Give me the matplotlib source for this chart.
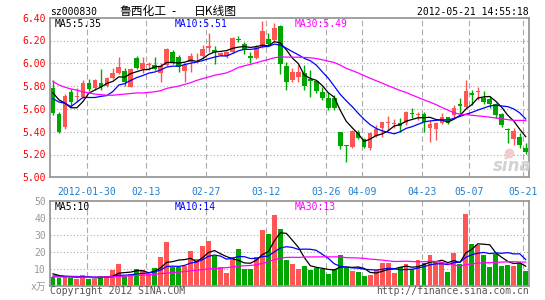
import numpy as np
import pandas as pd
import matplotlib
matplotlib.use('Agg')
import matplotlib.pyplot as plt

plt.rcParams['font.family'] = ['DejaVu Sans Mono', 'Noto Sans CJK SC']

# daily candles (first bar ~2012-01-13, last 2012-05-21)
opens = [5.787, 5.556, 5.445, 5.749, 5.70, 5.708, 5.831, 5.781, 5.828, 5.802,
         5.869, 5.918, 5.936, 5.796, 6.050, 5.948, 5.985, 5.986, 5.918, 5.986,
         6.097, 6.053, 5.936, 6.015, 6.060, 6.064, 6.130, 6.120, 6.070, 6.060,
         6.100, 6.215, 6.170, 6.060, 6.050, 6.140, 6.210, 6.200, 6.330, 5.975,
         5.850, 5.880, 5.912, 5.859, 5.847, 5.751, 5.698, 5.692, 5.394, 5.280,
         5.268, 5.400, 5.336, 5.260, 5.365, 5.429, 5.475, 5.470, 5.473, 5.473,
         5.567, 5.546, 5.552, 5.429, 5.423, 5.473, 5.526, 5.546, 5.640, 5.619,
         5.736, 5.751, 5.698, 5.684, 5.640, 5.555, 5.420, 5.336, 5.350, 5.260]
highs = [5.854, 5.577, 5.729, 5.773, 5.78, 5.854, 5.863, 5.860, 5.951, 5.883,
         5.957, 6.053, 5.957, 5.957, 6.064, 6.058, 6.015, 6.058, 6.006, 6.132,
         6.117, 6.073, 6.006, 6.093, 6.093, 6.160, 6.270, 6.150, 6.100, 6.110,
         6.230, 6.240, 6.190, 6.100, 6.160, 6.370, 6.270, 6.350, 6.340, 6.010,
         5.956, 5.985, 5.985, 5.941, 5.853, 5.795, 5.736, 5.722, 5.400, 5.283,
         5.415, 5.415, 5.347, 5.400, 5.458, 5.488, 5.540, 5.511, 5.517, 5.584,
         5.605, 5.575, 5.575, 5.502, 5.488, 5.561, 5.532, 5.634, 5.692, 5.853,
         5.766, 5.795, 5.757, 5.713, 5.649, 5.561, 5.429, 5.429, 5.385, 5.298]
lows = [5.548, 5.387, 5.422, 5.626, 5.66, 5.700, 5.760, 5.770, 5.770, 5.790,
        5.860, 5.910, 5.800, 5.790, 5.950, 5.913, 5.940, 5.940, 5.839, 5.980,
        5.990, 5.927, 5.839, 5.927, 6.000, 6.040, 6.100, 5.990, 6.060, 6.050,
        6.090, 6.190, 6.080, 6.000, 6.040, 6.130, 6.150, 6.190, 5.910, 5.770,
        5.839, 5.839, 5.766, 5.707, 5.736, 5.678, 5.590, 5.590, 5.245, 5.137,
        5.260, 5.336, 5.254, 5.239, 5.356, 5.356, 5.415, 5.429, 5.400, 5.458,
        5.517, 5.502, 5.394, 5.306, 5.327, 5.464, 5.464, 5.517, 5.546, 5.611,
        5.634, 5.678, 5.640, 5.605, 5.517, 5.444, 5.298, 5.283, 5.254, 5.201]
closes = [5.562, 5.401, 5.714, 5.664, 5.71, 5.831, 5.773, 5.851, 5.790, 5.874,
          5.918, 5.971, 5.839, 5.948, 5.957, 6.000, 5.990, 5.948, 5.974, 6.123,
          6.000, 5.965, 5.986, 6.064, 6.065, 6.122, 6.150, 6.095, 6.090, 6.100,
          6.220, 6.205, 6.120, 6.050, 6.140, 6.280, 6.170, 6.310, 5.990, 5.840,
          5.920, 5.926, 5.804, 5.847, 5.757, 5.692, 5.611, 5.605, 5.277, 5.275,
          5.406, 5.347, 5.263, 5.388, 5.423, 5.482, 5.480, 5.475, 5.450, 5.575,
          5.555, 5.555, 5.482, 5.464, 5.479, 5.526, 5.473, 5.605, 5.628, 5.757,
          5.725, 5.760, 5.657, 5.646, 5.546, 5.458, 5.415, 5.406, 5.283, 5.219]
# volume, 万手
volumes = [5.1, 4.6, 5.3, 4.6, 4.0, 6.3, 3.8, 3.8, 5.5, 5.5,
           8.9, 12.7, 5.5, 6.9, 9.7, 8.9, 6.5, 10.3, 16.8, 25.7,
           11.1, 11.1, 11.7, 20.4, 15.6, 23.4, 26.3, 17.4, 10.7, 7.5,
           16.8, 21.6, 9.9, 9.9, 16.8, 32.9, 30.5, 41.8, 33.5, 15.0,
           12.7, 9.9, 11.5, 9.1, 10.5, 9.7, 6.7, 9.7, 18.0, 10.5,
           8.5, 7.9, 5.5, 6.1, 8.9, 13.3, 13.3, 7.3, 10.7, 12.7,
           9.9, 15.0, 13.3, 18.0, 14.1, 14.1, 7.9, 19.2, 12.7, 42.4,
           24.6, 24.0, 18.0, 10.9, 18.6, 11.5, 12.1, 11.5, 13.3, 8.5]

# moving-average values at the left edge (their history is off the chart)
ma5_head = [5.74, 5.68, 5.65, 5.61]
ma10_head = [5.69, 5.66, 5.65, 5.62, 5.66, 5.70, 5.70, 5.70, 5.71]
ma30_head = [5.84, 5.81, 5.79, 5.775, 5.765, 5.75, 5.74, 5.73, 5.725, 5.72,
             5.72, 5.725, 5.73, 5.735, 5.74, 5.74, 5.745, 5.75, 5.76, 5.78,
             5.79, 5.80, 5.815, 5.83, 5.85, 5.865, 5.88, 5.895, 5.905]
vol_ma5_head = [6.9, 5.9, 5.3, 5.1]
vol_ma10_head = [5.6, 5.6, 5.5, 5.4, 5.3, 5.2, 5.1, 5.0, 4.9]
vol_ma30_head = [5.1, 5.0, 5.0, 5.0, 5.0, 4.9, 4.9, 4.9, 5.0, 5.0,
                 5.1, 5.3, 5.5, 5.7, 5.9, 6.1, 6.3, 6.6, 7.0, 7.3,
                 7.6, 7.9, 8.2, 8.6, 9.0, 9.4, 9.8, 10.0, 10.3]

date_bars = [6, 16, 26, 36, 46, 52, 62, 70, 79]
date_labels = ['2012-01-30', '02-13', '02-27', '03-12', '03-26',
               '04-09', '04-23', '05-07', '05-21']
price_ticks = [5.00, 5.20, 5.40, 5.60, 5.80, 6.00, 6.20, 6.40]
vol_ticks = [0, 10, 20, 30, 40, 50]
vol_tick_labels = ['x万', '10', '20', '30', '40', '50']

price_legend = ['MA5:5.35', 'MA10:5.51', 'MA30:5.49']
vol_legend = ['MA5:10', 'MA10:14', 'MA30:13']
code = 'sz000830'
title_parts = ['鲁西化工', '-', '日K线图']
stamp = '2012-05-21 14:55:18'


def moving(values, n, head):
    m = pd.Series(values).rolling(n).mean().to_numpy()
    m[:n - 1] = head
    return m


o = np.array(opens)
c = np.array(closes)
x = np.arange(len(c))
up = c >= o
RED, GREEN = '#ff5555', '#00a600'
cols = np.where(up, RED, GREEN)
ma_cols = ['black', '#0000ff', '#ff00ff']
GRID = '#aaaaaa'

W, H = 545, 300
fig = plt.figure(figsize=(W / 100, H / 100), dpi=100)
ax1 = fig.add_axes([50 / W, 1 - 177.3 / H, 479 / W, 159.6 / H])
ax2 = fig.add_axes([50 / W, 1 - 285.5 / H, 479 / W, 84.8 / H])

lines_x = np.array(date_bars) - 0.4
for ax in (ax1, ax2):
    ax.set_xlim(-0.5, len(c) - 0.45)
    for s in ax.spines.values():
        s.set_color('#999999')
        s.set_linewidth(1.3)
    ax.vlines(lines_x, 0, 1, transform=ax.get_xaxis_transform(),
              colors=GRID, lw=0.8, linestyles=(0, (5, 3)), zorder=1)
    ax.tick_params(length=0, labelsize=7, pad=3)

# price panel
ax1.set_ylim(5.0, 6.4)
for p in price_ticks[1:-1]:
    ax1.axhline(p, color=GRID, lw=0.8, ls=(0, (1, 2)), zorder=1)
ax1.vlines(x, lows, highs, colors=cols, lw=1, zorder=2)
ax1.bar(x, np.maximum(np.abs(c - o), 0.008), bottom=np.minimum(o, c),
        width=0.78, color=cols, zorder=3)
for n, head, col in zip((5, 10, 30), (ma5_head, ma10_head, ma30_head), ma_cols):
    ax1.plot(x, moving(closes, n, head), color=col, lw=0.9, zorder=4)
ax1.set_yticks(price_ticks)
ax1.set_yticklabels(['%.2f' % p for p in price_ticks], color='red')
ax1.set_xticks(lines_x)
ax1.set_xticklabels(date_labels, color='#1e7fd0')
ax1.tick_params(axis='x', pad=7)
for k, (txt, col) in enumerate(zip(price_legend, ma_cols)):
    fig.text((54.7 + 120 * k) / W, 1 - 26.7 / H, txt, color=col, fontsize=7)

# sina watermark
fig.text(512 / W, 1 - 166 / H, 'sina', color='#d2d2d2', fontsize=12,
         fontweight='bold', style='italic', family='DejaVu Sans',
         ha='center', va='center')
ax1.plot([509 / W], [1 - 153 / H], 'o', color='#f6caca', ms=6,
         transform=fig.transFigure, clip_on=False, zorder=5)

# volume panel
ax2.set_ylim(0, 50)
for v in vol_ticks[1:-1]:
    ax2.axhline(v, color=GRID, lw=0.8, ls=(0, (1, 2)), zorder=1)
ax2.bar(x, volumes, width=0.82, color=cols, zorder=2)
for n, head, col in zip((5, 10, 30), (vol_ma5_head, vol_ma10_head, vol_ma30_head), ma_cols):
    ax2.plot(x, moving(volumes, n, head), color=col, lw=0.9, zorder=3)
ax2.set_yticks(vol_ticks)
ax2.set_yticklabels(vol_tick_labels, color='#999999')
ax2.set_xticks([])
for k, (txt, col) in enumerate(zip(vol_legend, ma_cols)):
    fig.text((54.7 + 120 * k) / W, 1 - 210 / H, txt, color=col, fontsize=7)

# header and footer
fig.text(50 / W, 1 - 15.3 / H, code, fontsize=7, color='black')
cjk = ['Noto Sans CJK SC', 'DejaVu Sans']
fig.text(120 / W, 1 - 15 / H, title_parts[0], fontsize=8.5, family=cjk)
fig.text(174 / W, 1 - 15 / H, title_parts[1], fontsize=8.5, family=cjk, ha='center')
fig.text(194 / W, 1 - 15 / H, title_parts[2], fontsize=8.5, family=cjk)
fig.text(529 / W, 1 - 15.3 / H, stamp, fontsize=7, color='black', ha='right')
fig.text(50 / W, 1 - 294 / H, 'Copyright 2012 SINA.COM', fontsize=7, color='#555555')
fig.text(529 / W, 1 - 294 / H, 'http://finance.sina.com.cn', fontsize=7,
         color='#555555', ha='right')

fig.savefig('out.png', dpi=100, facecolor='white')
